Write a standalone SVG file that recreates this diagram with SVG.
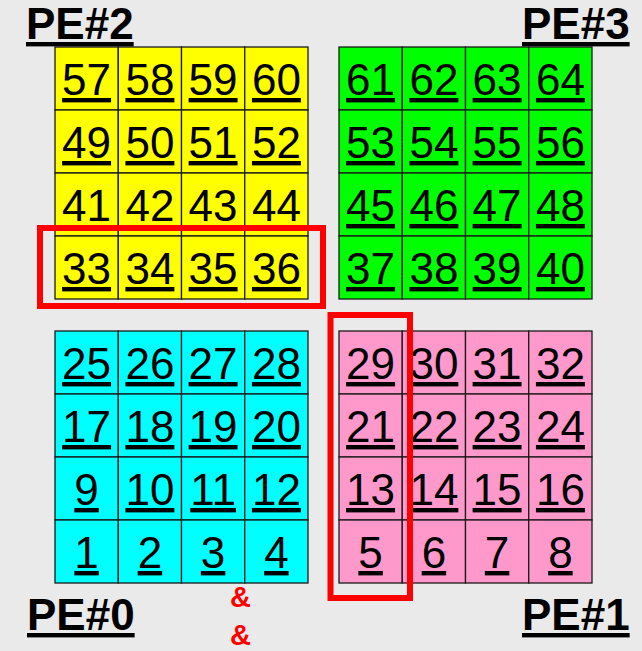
<svg xmlns="http://www.w3.org/2000/svg" width="642" height="651" viewBox="0 0 642 651">
<style>
.bg{fill:#EAEAEA}
.cell rect{stroke:#1a1a1a;stroke-width:1.3}
.y rect{fill:#FFFF00}
.g rect{fill:#00FF00}
.c rect{fill:#00FFFF}
.p rect{fill:#FF99CC}
.cell text{font-family:"Liberation Sans",Arial,sans-serif;font-size:44px;fill:#000;text-anchor:middle;text-decoration:underline}
.cell text.nu{text-decoration:none}
.pe{font-family:"Liberation Sans",Arial,sans-serif;font-size:44px;font-weight:bold;fill:#000;text-decoration:underline}
.amp{font-family:"Liberation Sans",Arial,sans-serif;font-size:29px;font-weight:bold;fill:#FF0000;text-anchor:middle}
.hl{fill:none;stroke:#FF0000;stroke-width:6}
</style>
<rect class="bg" x="0" y="0" width="642" height="651"/>

<g id="pe2" class="y">
<g id="cell-57" class="cell"><rect x="55" y="47" width="63.25" height="63"/><text x="86.6" y="95">57</text></g>
<g id="cell-58" class="cell"><rect x="118.25" y="47" width="63.25" height="63"/><text x="149.9" y="95">58</text></g>
<g id="cell-59" class="cell"><rect x="181.5" y="47" width="63.25" height="63"/><text x="213.1" y="95">59</text></g>
<g id="cell-60" class="cell"><rect x="244.75" y="47" width="63.25" height="63"/><text x="276.4" y="95">60</text></g>
<g id="cell-49" class="cell"><rect x="55" y="110" width="63.25" height="63"/><text x="86.6" y="158">49</text></g>
<g id="cell-50" class="cell"><rect x="118.25" y="110" width="63.25" height="63"/><text x="149.9" y="158">50</text></g>
<g id="cell-51" class="cell"><rect x="181.5" y="110" width="63.25" height="63"/><text x="213.1" y="158">51</text></g>
<g id="cell-52" class="cell"><rect x="244.75" y="110" width="63.25" height="63"/><text x="276.4" y="158">52</text></g>
<g id="cell-41" class="cell"><rect x="55" y="173" width="63.25" height="63"/><text class="nu" x="86.6" y="221">41</text></g>
<g id="cell-42" class="cell"><rect x="118.25" y="173" width="63.25" height="63"/><text class="nu" x="149.9" y="221">42</text></g>
<g id="cell-43" class="cell"><rect x="181.5" y="173" width="63.25" height="63"/><text class="nu" x="213.1" y="221">43</text></g>
<g id="cell-44" class="cell"><rect x="244.75" y="173" width="63.25" height="63"/><text class="nu" x="276.4" y="221">44</text></g>
<g id="cell-33" class="cell"><rect x="55" y="236" width="63.25" height="63"/><text x="86.6" y="284">33</text></g>
<g id="cell-34" class="cell"><rect x="118.25" y="236" width="63.25" height="63"/><text x="149.9" y="284">34</text></g>
<g id="cell-35" class="cell"><rect x="181.5" y="236" width="63.25" height="63"/><text x="213.1" y="284">35</text></g>
<g id="cell-36" class="cell"><rect x="244.75" y="236" width="63.25" height="63"/><text x="276.4" y="284">36</text></g>
</g>

<g id="pe3" class="g">
<g id="cell-61" class="cell"><rect x="339" y="47" width="63.25" height="63"/><text x="370.6" y="95">61</text></g>
<g id="cell-62" class="cell"><rect x="402.25" y="47" width="63.25" height="63"/><text x="433.9" y="95">62</text></g>
<g id="cell-63" class="cell"><rect x="465.5" y="47" width="63.25" height="63"/><text x="497.1" y="95">63</text></g>
<g id="cell-64" class="cell"><rect x="528.75" y="47" width="63.25" height="63"/><text x="560.4" y="95">64</text></g>
<g id="cell-53" class="cell"><rect x="339" y="110" width="63.25" height="63"/><text x="370.6" y="158">53</text></g>
<g id="cell-54" class="cell"><rect x="402.25" y="110" width="63.25" height="63"/><text x="433.9" y="158">54</text></g>
<g id="cell-55" class="cell"><rect x="465.5" y="110" width="63.25" height="63"/><text x="497.1" y="158">55</text></g>
<g id="cell-56" class="cell"><rect x="528.75" y="110" width="63.25" height="63"/><text x="560.4" y="158">56</text></g>
<g id="cell-45" class="cell"><rect x="339" y="173" width="63.25" height="63"/><text x="370.6" y="221">45</text></g>
<g id="cell-46" class="cell"><rect x="402.25" y="173" width="63.25" height="63"/><text x="433.9" y="221">46</text></g>
<g id="cell-47" class="cell"><rect x="465.5" y="173" width="63.25" height="63"/><text x="497.1" y="221">47</text></g>
<g id="cell-48" class="cell"><rect x="528.75" y="173" width="63.25" height="63"/><text x="560.4" y="221">48</text></g>
<g id="cell-37" class="cell"><rect x="339" y="236" width="63.25" height="63"/><text x="370.6" y="284">37</text></g>
<g id="cell-38" class="cell"><rect x="402.25" y="236" width="63.25" height="63"/><text x="433.9" y="284">38</text></g>
<g id="cell-39" class="cell"><rect x="465.5" y="236" width="63.25" height="63"/><text x="497.1" y="284">39</text></g>
<g id="cell-40" class="cell"><rect x="528.75" y="236" width="63.25" height="63"/><text x="560.4" y="284">40</text></g>
</g>

<g id="pe0" class="c">
<g id="cell-25" class="cell"><rect x="55" y="331" width="63.25" height="63"/><text x="86.6" y="379">25</text></g>
<g id="cell-26" class="cell"><rect x="118.25" y="331" width="63.25" height="63"/><text x="149.9" y="379">26</text></g>
<g id="cell-27" class="cell"><rect x="181.5" y="331" width="63.25" height="63"/><text x="213.1" y="379">27</text></g>
<g id="cell-28" class="cell"><rect x="244.75" y="331" width="63.25" height="63"/><text x="276.4" y="379">28</text></g>
<g id="cell-17" class="cell"><rect x="55" y="394" width="63.25" height="63"/><text x="86.6" y="442">17</text></g>
<g id="cell-18" class="cell"><rect x="118.25" y="394" width="63.25" height="63"/><text x="149.9" y="442">18</text></g>
<g id="cell-19" class="cell"><rect x="181.5" y="394" width="63.25" height="63"/><text x="213.1" y="442">19</text></g>
<g id="cell-20" class="cell"><rect x="244.75" y="394" width="63.25" height="63"/><text x="276.4" y="442">20</text></g>
<g id="cell-9" class="cell"><rect x="55" y="457" width="63.25" height="63"/><text x="86.6" y="505">9</text></g>
<g id="cell-10" class="cell"><rect x="118.25" y="457" width="63.25" height="63"/><text x="149.9" y="505">10</text></g>
<g id="cell-11" class="cell"><rect x="181.5" y="457" width="63.25" height="63"/><text x="213.1" y="505">11</text></g>
<g id="cell-12" class="cell"><rect x="244.75" y="457" width="63.25" height="63"/><text x="276.4" y="505">12</text></g>
<g id="cell-1" class="cell"><rect x="55" y="520" width="63.25" height="63"/><text x="86.6" y="568">1</text></g>
<g id="cell-2" class="cell"><rect x="118.25" y="520" width="63.25" height="63"/><text x="149.9" y="568">2</text></g>
<g id="cell-3" class="cell"><rect x="181.5" y="520" width="63.25" height="63"/><text x="213.1" y="568">3</text></g>
<g id="cell-4" class="cell"><rect x="244.75" y="520" width="63.25" height="63"/><text x="276.4" y="568">4</text></g>
</g>

<g id="pe1" class="p">
<g id="cell-29" class="cell"><rect x="339" y="331" width="63.25" height="63"/><text x="370.6" y="379">29</text></g>
<g id="cell-30" class="cell"><rect x="402.25" y="331" width="63.25" height="63"/><text x="433.9" y="379">30</text></g>
<g id="cell-31" class="cell"><rect x="465.5" y="331" width="63.25" height="63"/><text x="497.1" y="379">31</text></g>
<g id="cell-32" class="cell"><rect x="528.75" y="331" width="63.25" height="63"/><text x="560.4" y="379">32</text></g>
<g id="cell-21" class="cell"><rect x="339" y="394" width="63.25" height="63"/><text x="370.6" y="442">21</text></g>
<g id="cell-22" class="cell"><rect x="402.25" y="394" width="63.25" height="63"/><text x="433.9" y="442">22</text></g>
<g id="cell-23" class="cell"><rect x="465.5" y="394" width="63.25" height="63"/><text x="497.1" y="442">23</text></g>
<g id="cell-24" class="cell"><rect x="528.75" y="394" width="63.25" height="63"/><text x="560.4" y="442">24</text></g>
<g id="cell-13" class="cell"><rect x="339" y="457" width="63.25" height="63"/><text x="370.6" y="505">13</text></g>
<g id="cell-14" class="cell"><rect x="402.25" y="457" width="63.25" height="63"/><text x="433.9" y="505">14</text></g>
<g id="cell-15" class="cell"><rect x="465.5" y="457" width="63.25" height="63"/><text x="497.1" y="505">15</text></g>
<g id="cell-16" class="cell"><rect x="528.75" y="457" width="63.25" height="63"/><text x="560.4" y="505">16</text></g>
<g id="cell-5" class="cell"><rect x="339" y="520" width="63.25" height="63"/><text x="370.6" y="568">5</text></g>
<g id="cell-6" class="cell"><rect x="402.25" y="520" width="63.25" height="63"/><text x="433.9" y="568">6</text></g>
<g id="cell-7" class="cell"><rect x="465.5" y="520" width="63.25" height="63"/><text x="497.1" y="568">7</text></g>
<g id="cell-8" class="cell"><rect x="528.75" y="520" width="63.25" height="63"/><text x="560.4" y="568">8</text></g>
</g>

<g id="labels">
<text class="pe" x="26" y="39">PE#2</text>
<text class="pe" x="522" y="39">PE#3</text>
<text class="pe" x="27" y="630">PE#0</text>
<text class="pe" x="522" y="630">PE#1</text>
<text class="amp" x="240.5" y="607">&amp;</text>
<text class="amp" x="240.5" y="645">&amp;</text>
</g>

<g id="connectors">
<rect class="hl" x="40" y="228" width="283" height="78"/>
<rect class="hl" x="330.5" y="315" width="79.5" height="283"/>
</g>
</svg>
